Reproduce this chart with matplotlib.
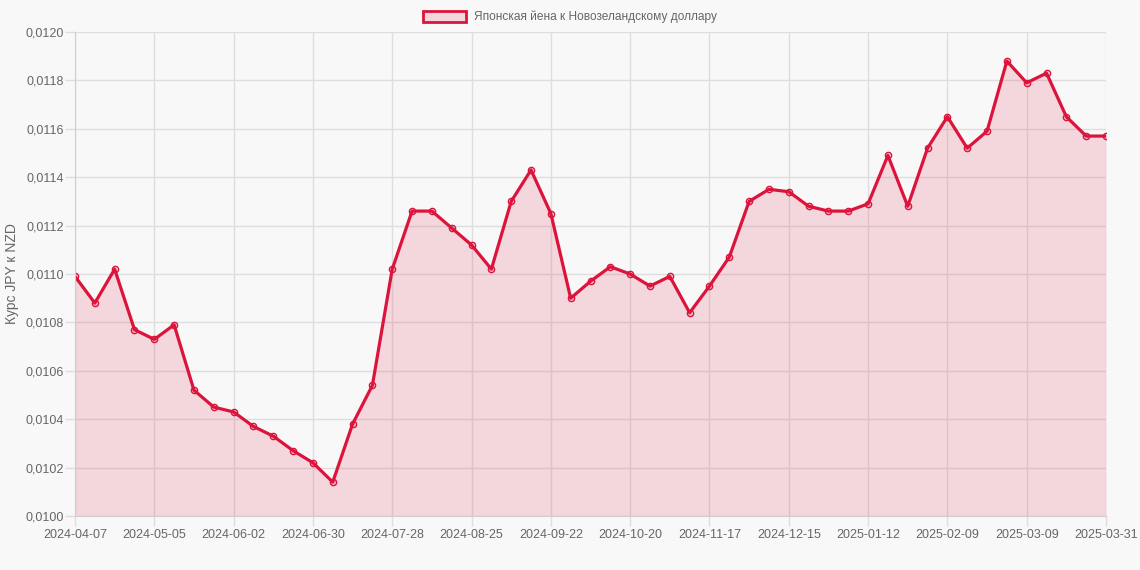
import pandas as pd
import matplotlib
matplotlib.use('Agg')
import matplotlib.pyplot as plt
from matplotlib.patches import Patch
from matplotlib.ticker import FuncFormatter

# weekly dates (category axis), last point is 2025-03-31
dates = [d.strftime('%Y-%m-%d') for d in pd.date_range('2024-04-07', periods=52, freq='7D')]
dates.append('2025-03-31')

rates = [0.01099, 0.01088, 0.01102, 0.01077, 0.01073, 0.01079, 0.01052, 0.01045,
         0.01043, 0.01037, 0.01033, 0.01027, 0.01022, 0.01014, 0.01038, 0.01054,
         0.01102, 0.01126, 0.01126, 0.01119, 0.01112, 0.01102, 0.01130, 0.01143,
         0.01125, 0.01090, 0.01097, 0.01103, 0.01100, 0.01095, 0.01099, 0.01084,
         0.01095, 0.01107, 0.01130, 0.01135, 0.01134, 0.01128, 0.01126, 0.01126,
         0.01129, 0.01149, 0.01128, 0.01152, 0.01165, 0.01152, 0.01159, 0.01188,
         0.01179, 0.01183, 0.01165, 0.01157, 0.01157]

series_name = 'Японская йена к Новозеландскому доллару'
ylabel = 'Курс JPY к NZD'

plt.rcParams['font.family'] = ['Liberation Sans', 'DejaVu Sans']
line_color = '#dc143c'
fill_color = (220/255, 20/255, 60/255, 0.14)
bg = '#f8f8f8'
text_color = '#666666'
grid_color = '#dedede'

fig = plt.figure(figsize=(11.4, 5.7), dpi=100, facecolor=bg)
ax = fig.add_axes([75/1140, 1 - 516/570, (1106 - 75)/1140, (516 - 32)/570])
ax.set_facecolor(bg)

x = list(range(len(dates)))
ax.fill_between(x, rates, 0.0100, color=fill_color, linewidth=0)
ax.plot(x, rates, color=line_color, linewidth=2.3, marker='o', markersize=4.5,
        markerfacecolor=fill_color, markeredgecolor=line_color, markeredgewidth=1.0)

ax.set_xlim(0, len(dates) - 1)
ax.set_ylim(0.0100, 0.0120)
ticks = list(range(0, len(dates) - 1, 4)) + [len(dates) - 1]
ax.set_xticks(ticks)
ax.set_xticklabels([dates[i] for i in ticks])
ax.set_yticks([0.0100 + 0.0002 * i for i in range(11)])
ax.yaxis.set_major_formatter(FuncFormatter(lambda v, p: ('%.4f' % v).replace('.', ',')))

ax.grid(True, color=grid_color, linewidth=1)
ax.set_axisbelow(True)
for s in ['top', 'right']:
    ax.spines[s].set_visible(False)
for s in ['left', 'bottom']:
    ax.spines[s].set_color('#cfcfcf')
ax.tick_params(colors=text_color, labelsize=9, width=1)
ax.tick_params(axis='y', length=7, pad=1)
ax.tick_params(axis='x', length=7, pad=2)
ax.tick_params(axis='both', color=grid_color)
ax.set_ylabel(ylabel, color=text_color, fontsize=10, labelpad=5)

handle = Patch(facecolor=fill_color, edgecolor=line_color, linewidth=2)
fig.legend([handle], [series_name], loc='upper center', bbox_to_anchor=(0.5, 1.0),
           frameon=False, fontsize=8.6, labelcolor=text_color,
           handlelength=3.6, handleheight=1.0, handletextpad=0.6)

fig.savefig('out.png', dpi=100, facecolor=bg)
